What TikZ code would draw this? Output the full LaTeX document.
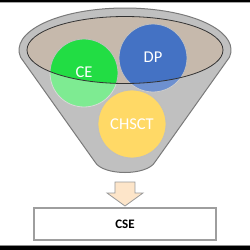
\documentclass[tikz,border=0pt]{standalone}
\usepackage{fontspec}
\setmainfont{Carlito}
\definecolor{funnelfill}{HTML}{C0C0C0}
\definecolor{funneldraw}{HTML}{7A7A7A}
\definecolor{innerfill}{HTML}{C6B9AC}
\definecolor{cegreen}{HTML}{22DD44}
\definecolor{dpblue}{HTML}{4472C4}
\definecolor{chyellow}{HTML}{FFD966}
\definecolor{arrowfill}{HTML}{FDE5C9}
\begin{document}
\begin{tikzpicture}[x=1pt,y=1pt,
  circ/.style={circle, minimum size=68pt, inner sep=0pt, draw=black!25, line width=0.8pt},
  lbl/.style={text=white, font=\fontsize{16.5}{18}\selectfont},
]
\useasboundingbox (0,0) rectangle (250,250);
\fill[white] (0,0) rectangle (250,250);
% frame bars
\fill[black] (0,247.8) rectangle (250,250);
\draw[black!35, line width=0.8pt] (0,247.2) -- (250,247.2);
\fill[black] (0,0) rectangle (250,3.8);
\draw[black!45, line width=0.8pt] (0,4.4) -- (250,4.4);
% funnel body
\path[fill=funnelfill, draw=funneldraw, line width=1pt]
  (229.4,192.7) arc[start angle=-10, end angle=190, x radius=106, y radius=42]
  -- (95,88) .. controls (103,74) and (147,74) .. (155,88) -- cycle;
% inner ellipse
\fill[innerfill] (125,200) ellipse[x radius=98, y radius=33.5];
% circles
\node[circ, fill=cegreen] (ce) at (84,177) {};
\node[circ, fill=dpblue] (dp) at (153,192) {};
\begin{scope}
  \clip (27,200) arc[start angle=180, end angle=360, x radius=98, y radius=33.5] -- (223,0) -- (27,0) -- cycle;
  \begin{scope}
    \clip (84,177) circle[radius=34.4];
    \fill[white, opacity=0.42] (40,100) rectangle (130,220);
  \end{scope}
  \begin{scope}
    \clip (153,192) circle[radius=34.4];
    \fill[white, opacity=0.22] (110,100) rectangle (200,240);
  \end{scope}
\end{scope}
\draw[black!80, line width=0.8pt] (125,200) ellipse[x radius=98, y radius=33.5];
\node[circ, fill=chyellow] (ch) at (132,126) {};
\node[lbl] at (84,178) {CE};
\node[lbl] at (153,193) {DP};
\node[lbl] at (132,126) {CHSCT};
% down arrow
\path[fill=arrowfill, draw=black!40, line width=0.8pt]
  (115,68) -- (135,68) -- (135,57) -- (143,57) -- (125,44) -- (107,57) -- (115,57) -- cycle;
% CSE box
\node[draw=black!38, line width=1.3pt, fill=white, minimum width=182pt, minimum height=32pt, inner sep=0pt,
  font=\bfseries\fontsize{13}{15}\selectfont] (cse) at (125,26) {CSE};
\end{tikzpicture}
\end{document}
